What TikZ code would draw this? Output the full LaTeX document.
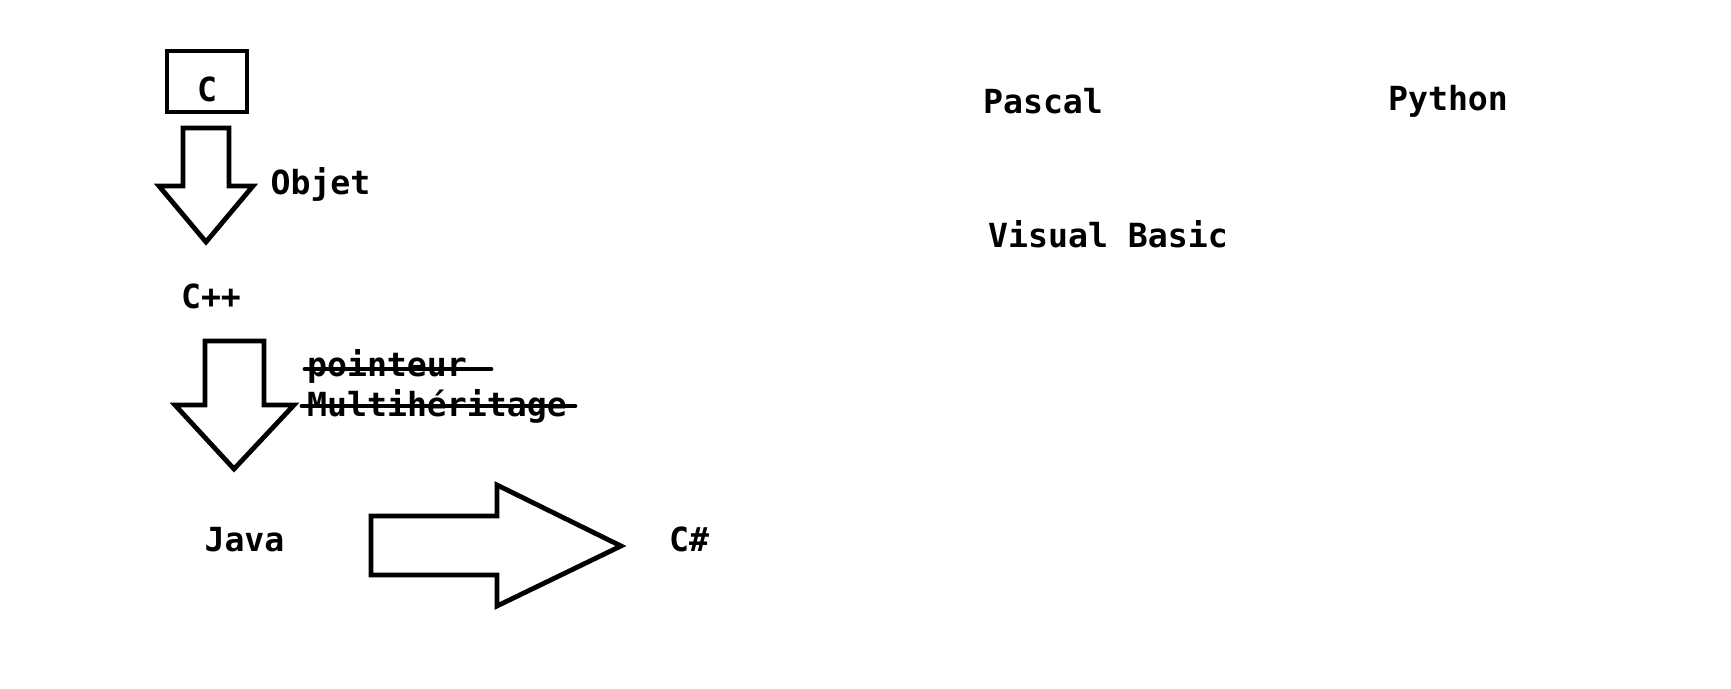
\documentclass[tikz,border=0pt]{standalone}
\usepackage{fontspec}
\setmonofont{DejaVu Sans Mono}
\usepackage{tikz}
\usetikzlibrary{positioning}

\tikzset{
  lang/.style={font=\ttfamily\bfseries\fontsize{16.6pt}{20pt}\selectfont,
               inner sep=0pt, anchor=base},
  cbox/.style={lang, draw, line width=2.4pt, anchor=center,
               minimum width=40pt, minimum height=30.5pt,
               text height=20.5pt, text depth=0pt},
  bigarr/.style={draw, line width=2.4pt, line join=miter, fill=white},
  strike/.style={line width=2.4pt, line cap=round}
}

\begin{document}
\begin{tikzpicture}[x=0.5pt, y=-0.5pt]
  \useasboundingbox (0,0) rectangle (1731,689);

  % left column
  \node[cbox] (c) at (207,81.5) {C};
  \node[lang] (objet) at (320.5,195) {Objet};
  \node[lang] (cpp) at (211,309) {C++};
  \node[lang] (pointeur) at (387,377) {pointeur};
  \node[lang] (multi) at (437,417) {Multihéritage};
  \node[lang] (java) at (244.5,552) {Java};
  \node[lang] (csharp) at (689,552) {C\#};

  % right side
  \node[lang] (pascal) at (1043,114) {Pascal};
  \node[lang] (python) at (1448,111) {Python};
  \node[lang] (vb) at (1108,248) {Visual Basic};

  % big arrows
  \draw[bigarr] (183,128) -- (229,128) -- (229,186) -- (253,186)
    -- (206,242) -- (159,186) -- (183,186) -- cycle;
  \draw[bigarr] (205,341) -- (264,341) -- (264,405) -- (294,405)
    -- (234,469) -- (175,405) -- (205,405) -- cycle;
  \draw[bigarr] (371,516) -- (497,516) -- (497,485) -- (621,546)
    -- (497,606) -- (497,575) -- (371,575) -- cycle;

  % crossed out
  \draw[strike] (305,369) -- (491,369);
  \draw[strike] (302,406) -- (575,406);
\end{tikzpicture}
\end{document}
